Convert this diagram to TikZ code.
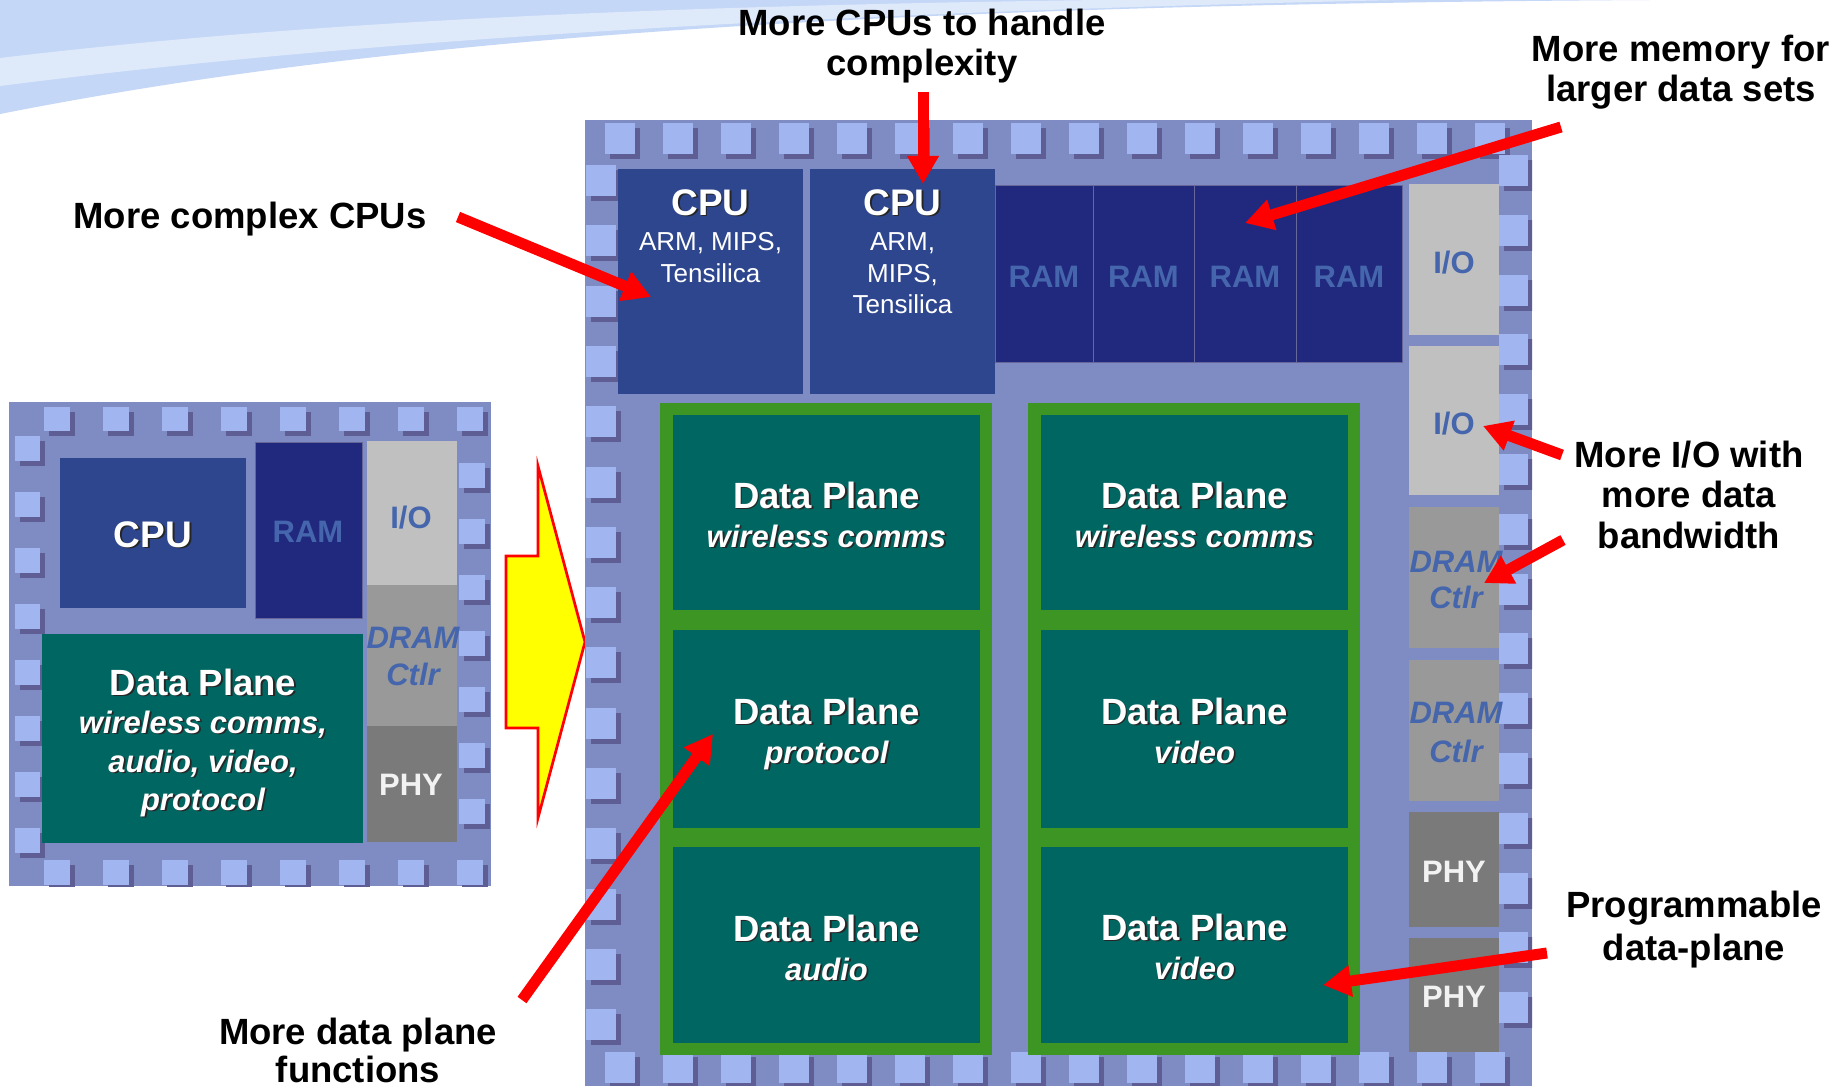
\documentclass[tikz,border=0pt]{standalone}
\usepackage{fontspec}
\setmainfont{Liberation Sans}
\usetikzlibrary{arrows.meta}

\definecolor{chipbg}{HTML}{7F8CC4}
\definecolor{padc}{HTML}{A1B5F0}
\definecolor{padsh}{HTML}{5F5E94}
\definecolor{cpuc}{HTML}{2D468E}
\definecolor{ramc}{HTML}{21297F}
\definecolor{ioc}{HTML}{C0C0C0}
\definecolor{dramc}{HTML}{999999}
\definecolor{phyc}{HTML}{7A7A7A}
\definecolor{tealc}{HTML}{006662}
\definecolor{greenc}{HTML}{3D9623}
\definecolor{labblue}{HTML}{4566AC}
\definecolor{swooshc}{HTML}{C4D7F7}
\definecolor{arrowyellow}{HTML}{FFFF00}

% white text with a dark drop shadow: style, name, position, text
\newcommand\shtxt[4]{%
  \node[#1, text=black!85, xshift=1.8pt, yshift=-1.8pt] (#2sh) at (#3) {#4};
  \node[#1, text=white] (#2) at (#3) {#4};}

\begin{document}
\begin{tikzpicture}[x=1pt,y=-1pt,
  lbl/.style={font=\fontsize{36.5}{40}\selectfont\bfseries, inner sep=0pt, anchor=base},
  cputitle/.style={font=\fontsize{37}{40}\selectfont\bfseries, inner sep=0pt, anchor=base},
  armtxt/.style={font=\fontsize{26}{31}\selectfont, text=white, inner sep=0pt, anchor=base},
  blu/.style={font=\fontsize{31}{36}\selectfont\bfseries, text=labblue, inner sep=0pt, anchor=base},
  bluit/.style={font=\fontsize{31}{36}\selectfont\bfseries\itshape, text=labblue, inner sep=0pt, anchor=base},
  phytxt/.style={font=\fontsize{31}{36}\selectfont\bfseries, text=white!95!black, inner sep=0pt, anchor=base},
  dptitle/.style={font=\fontsize{36.5}{40}\selectfont\bfseries, inner sep=0pt, anchor=base},
  dpsub/.style={font=\fontsize{31}{36}\selectfont\bfseries\itshape, inner sep=0pt, anchor=base},
  redarrow/.style={draw=red, line width=11pt, -{Triangle[length=28pt,width=30pt]}},
  ramedge/.style={draw=gray!80!blue, line width=1pt},
]
\useasboundingbox (0,0) rectangle (1841,1086);
\fill[white] (0,0) rectangle (1841,1086);

% template swoosh in the top left corner
\fill[swooshc] (0,0) -- (0,114) .. controls (350,45) and (800,5) .. (1650,0) -- cycle;
\fill[white, opacity=0.45] (0,58) .. controls (300,22) and (650,6) .. (1100,0)
  -- (1400,0) .. controls (750,14) and (320,45) .. (0,86) -- cycle;

% ---------------- small chip ----------------
\fill[chipbg] (9,402) rectangle (491,886);
\begin{scope}
  \clip (9,402) rectangle (491,886);
  \foreach \k in {0,...,7} {
    \fill[padsh] ({49+59*\k},412) rectangle +(26,24);
    \fill[padc]  ({44+59*\k},407) rectangle +(26,24);
    \fill[padsh] ({49+59*\k},865) rectangle +(26,25);
    \fill[padc]  ({44+59*\k},860) rectangle +(26,25);
    \fill[padsh] (20,{441+56*\k}) rectangle +(25,25);
    \fill[padc]  (15,{436+56*\k}) rectangle +(25,25);
  }
  \foreach \k in {0,...,6} {
    \fill[padsh] (464,{468+56*\k}) rectangle +(26,25);
    \fill[padc]  (459,{463+56*\k}) rectangle +(26,25);
  }
\end{scope}
\fill[cpuc] (60,458) rectangle (246,608);
\fill[ramc] (255,442) rectangle (362,618);
\draw[ramedge] (255,442) rectangle (362,618);
\fill[ioc] (367,441) rectangle (457,585);
\fill[dramc] (367,585) rectangle (457,726);
\fill[phyc] (367,726) rectangle (457,842);
\fill[tealc] (42,634) rectangle (363,843);

\shtxt{cputitle}{sCpu}{153,547}{CPU}
\node[blu] (sRam) at (308,542) {RAM};
\node[blu] (sIo) at (411,528) {I/O};
\node[bluit] (sDram) at (413,648) {DRAM};
\node[bluit] (sCtlr) at (413,685) {Ctlr};
\node[phytxt] (sPhy) at (411,795) {PHY};
\shtxt{dptitle}{sDp}{203,695}{Data Plane}
\shtxt{dpsub}{sDpA}{203,733}{wireless comms,}
\shtxt{dpsub}{sDpB}{203,772}{audio, video,}
\shtxt{dpsub}{sDpC}{203,810}{protocol}

% growth arrow between the chips
\draw[red, line width=2.7pt, fill=arrowyellow]
  (506,556) -- (538,556) -- (538,466) -- (585,642) -- (538,818) -- (538,728) -- (506,728) -- cycle;

% ---------------- large chip ----------------
\fill[chipbg] (585,120) rectangle (1532,1086);
\begin{scope}
  \clip (585,120) rectangle (1532,1086);
  \foreach \k in {0,...,15} {
    \fill[padsh] ({610+58*\k},128) rectangle +(30,31);
    \fill[padc]  ({605+58*\k},123) rectangle +(30,31);
    \fill[padsh] ({610+58*\k},1057) rectangle +(30,31);
    \fill[padc]  ({605+58*\k},1052) rectangle +(30,31);
  }
  \foreach \k in {0,...,14} {
    \fill[padsh] (591,{170+60.3*\k}) rectangle +(30,31);
    \fill[padc]  (586,{165+60.3*\k}) rectangle +(30,31);
    \fill[padsh] (1504,{160+59.8*\k}) rectangle +(29,31);
    \fill[padc]  (1499,{155+59.8*\k}) rectangle +(29,31);
  }
\end{scope}

% processors and memory
\fill[cpuc] (618,169) rectangle (803,394);
\fill[cpuc] (810,169) rectangle (995,394);
\foreach \a/\b in {995/1093,1093/1194,1194/1296,1296/1402} {
  \fill[ramc] (\a,186) rectangle (\b,362);
  \draw[ramedge] (\a,186) rectangle (\b,362);
}

% right-hand column of interface blocks
\fill[ioc] (1409,184) rectangle (1499,335);
\fill[ioc] (1409,346) rectangle (1499,495);
\fill[dramc] (1409,507) rectangle (1499,648);
\fill[dramc] (1409,660) rectangle (1499,801);
\fill[phyc] (1409,812) rectangle (1499,927);
\fill[phyc] (1409,938) rectangle (1499,1052);

% programmable data-plane columns
\foreach \gx/\tx in {660/673,1028/1041} {
  \fill[greenc] (\gx,403) rectangle ({\gx+332},1055);
  \fill[tealc] (\tx,415) rectangle ({\tx+307},610);
  \fill[tealc] (\tx,630) rectangle ({\tx+307},828);
  \fill[tealc] (\tx,847) rectangle ({\tx+307},1043);
}

% block labels
\shtxt{cputitle}{cpuA}{710.5,215}{CPU}
\node[armtxt] (cpuAa) at (710.5,250) {ARM, MIPS,};
\node[armtxt] (cpuAb) at (710.5,282) {Tensilica};
\shtxt{cputitle}{cpuB}{902.5,215}{CPU}
\node[armtxt] (cpuBa) at (902.5,250) {ARM,};
\node[armtxt] (cpuBb) at (902.5,282) {MIPS,};
\node[armtxt] (cpuBc) at (902.5,313) {Tensilica};
\node[blu] (ramA) at (1044,287) {RAM};
\node[blu] (ramB) at (1143.5,287) {RAM};
\node[blu] (ramC) at (1245,287) {RAM};
\node[blu] (ramD) at (1349,287) {RAM};
\node[blu] (ioA) at (1454,273) {I/O};
\node[blu] (ioB) at (1454,434) {I/O};
\node[bluit] (dramA) at (1456,572) {DRAM};
\node[bluit] (ctlrA) at (1456,608) {Ctlr};
\node[bluit] (dramB) at (1456,723) {DRAM};
\node[bluit] (ctlrB) at (1456,762) {Ctlr};
\node[phytxt] (phyA) at (1454,882) {PHY};
\node[phytxt] (phyB) at (1454,1007) {PHY};

\shtxt{dptitle}{dpA}{826.5,508}{Data Plane}
\shtxt{dpsub}{dpAs}{826.5,547}{wireless comms}
\shtxt{dptitle}{dpB}{826.5,724}{Data Plane}
\shtxt{dpsub}{dpBs}{826.5,763}{protocol}
\shtxt{dptitle}{dpC}{826.5,941}{Data Plane}
\shtxt{dpsub}{dpCs}{826.5,980}{audio}
\shtxt{dptitle}{dpD}{1194.5,508}{Data Plane}
\shtxt{dpsub}{dpDs}{1194.5,547}{wireless comms}
\shtxt{dptitle}{dpE}{1194.5,724}{Data Plane}
\shtxt{dpsub}{dpEs}{1194.5,763}{video}
\shtxt{dptitle}{dpF}{1194.5,940}{Data Plane}
\shtxt{dpsub}{dpFs}{1194.5,979}{video}

% ---------------- callouts ----------------
\node[lbl] (cpusA) at (922,36) {More CPUs to handle};
\node[lbl] (cpusB) at (922,76) {complexity};
\node[lbl] (memA) at (1681,62) {More memory for};
\node[lbl] (memB) at (1681,102) {larger data sets};
\node[lbl] (cplx) at (250,228) {More complex CPUs};
\node[lbl] (ioLA) at (1689,467) {More I/O with};
\node[lbl] (ioLB) at (1689,507) {more data};
\node[lbl] (ioLC) at (1689,548) {bandwidth};
\node[lbl] (progA) at (1694,917) {Programmable};
\node[lbl] (progB) at (1694,960) {data-plane};
\node[lbl] (dpfA) at (358,1044) {More data plane};
\node[lbl] (dpfB) at (358,1082) {functions};

\coordinate (c1s) at (458,217);   \coordinate (c1e) at (651,297);
\coordinate (c2s) at (923,92);    \coordinate (c2e) at (923,184);
\coordinate (c3s) at (1561,127);  \coordinate (c3e) at (1245,223);
\coordinate (c4s) at (1562,455);  \coordinate (c4e) at (1483,426);
\coordinate (c5s) at (1563,540);  \coordinate (c5e) at (1484,583);
\coordinate (c6s) at (1547,953);  \coordinate (c6e) at (1323,985);
\coordinate (c7s) at (522,1000);  \coordinate (c7e) at (713,734);
\foreach \i in {1,...,7} \draw[redarrow] (c\i s) -- (c\i e);
\end{tikzpicture}
\end{document}
